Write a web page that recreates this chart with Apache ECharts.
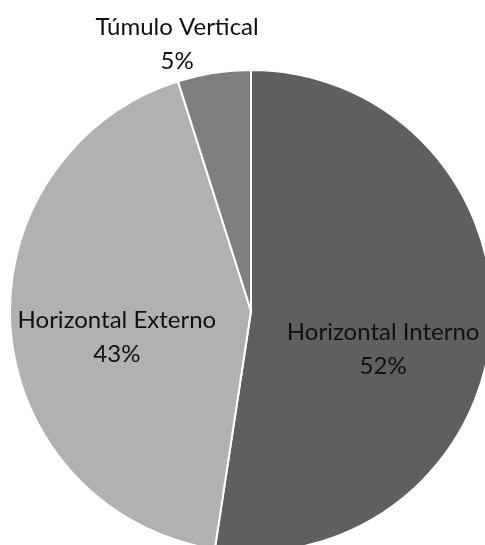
<!DOCTYPE html>
<html>
<head>
<meta charset="utf-8">
<script src="https://cdn.jsdelivr.net/npm/echarts@6/dist/echarts.min.js"></script>
<style>
  html, body { margin: 0; padding: 0; background: #fff; }
  #chart { width: 485px; height: 545px; }
</style>
</head>
<body>
<div id="chart"></div>
<script>
const categories = ['Horizontal Interno', 'Horizontal Externo', 'Túmulo Vertical']
const values = [52.4, 42.7, 4.9]
const colors = ['#5f5f5f', '#b1b1b1', '#7f7f7f']
const labelOffsets = [[9, 29], [-11, 17], [-55, -145]]

const echart = echarts.init(document.getElementById('chart'))

const data = categories.map((name, i) => ({
  name: name,
  value: values[i],
  itemStyle: { color: colors[i] },
  label: { offset: labelOffsets[i] },
}))

const option = {
  animation: false,
  series: [
    {
      type: 'pie',
      center: [251, 311],
      radius: [0, 241],
      startAngle: 90,
      clockwise: true,
      data: data,
      itemStyle: {
        borderColor: '#fff',
        borderWidth: 2,
      },
      label: {
        show: true,
        position: 'inside',
        color: '#111',
        fontFamily: 'Lato',
        fontSize: 24,
        lineHeight: 34,
        align: 'center',
        formatter: p => p.name + '\n' + Math.round(p.percent) + '%',
      },
      labelLine: { show: false },
      emphasis: { disabled: true },
    },
  ],
}

option && echart.setOption(option)
</script>
</body>
</html>
